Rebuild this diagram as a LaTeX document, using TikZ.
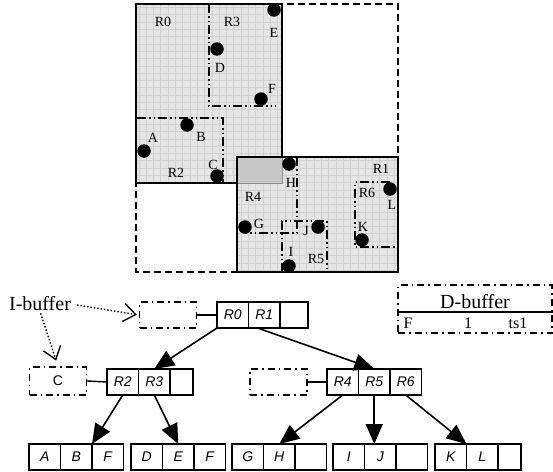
\documentclass[tikz,border=0pt]{standalone}
\usepackage{fontspec}
\setmainfont{Liberation Serif}
\newfontfamily\arialfont{Liberation Sans}
\usetikzlibrary{positioning,arrows.meta,calc}

\begin{document}
\begin{tikzpicture}[
        x=1pt, y=-1pt,
        region/.style = {fill=black!10},
        gridline/.style = {draw=black!18, line width=0.4pt},
        border/.style = {line width=1.8pt},
        sub/.style = {line width=1.5pt,
                      dash pattern=on 9pt off 3pt on 1.5pt off 3pt on 1.5pt off 3pt},
        pt/.style = {circle, fill=black, minimum size=13.5pt, inner sep=0pt},
        lbl/.style = {inner sep=0pt, font=\fontsize{14}{16}\selectfont},
        cell/.style = {draw, line width=1.5pt, minimum width=31.5pt,
                       minimum height=26pt, inner sep=0pt, outer sep=0pt,
                       font=\arialfont\itshape\fontsize{14}{16}\selectfont},
        bufbox/.style = {draw, line width=1.4pt, minimum width=57pt,
                         minimum height=26pt, inner sep=0pt,
                         dash pattern=on 7pt off 4pt on 1.5pt off 4pt},
        tarr/.style = {-{Triangle[length=20pt,width=17pt]}, line width=1.6pt},
        darr/.style = {-{Straight Barb[length=12pt,width=18pt]}, dotted, line width=1.4pt},
        big/.style = {inner sep=0pt, font=\fontsize{20}{22}\selectfont}
    ]
    \useasboundingbox (0,0) rectangle (553,471);

    % space with the two top regions
    \draw[line width=1.6pt, dash pattern=on 7pt off 4pt] (136,4) rectangle (398,272);
    \fill[region] (136,4) rectangle (282,183);
    \draw[gridline, step=7.3pt] (136,4) grid (282,183);
    \fill[region] (237,157) rectangle (398,272);
    \draw[gridline, step=7.3pt] (237,157) grid (398,272);
    \fill[black!22] (237,157) rectangle (282,183);
    \draw[border] (237,183) -- (136,183) -- (136,4) -- (282,4) -- (282,157);
    \draw[black!45, line width=1pt] (282,157) -- (282,183) -- (237,183);
    \draw[border] (237,157) rectangle (398,272);

    % lower regions
    \draw[sub] (209,4) -- (209,106) -- (276,106);
    \draw[sub] (137,118) -- (223,118) -- (223,183);
    \draw[sub] (297,157) -- (297,233) -- (245,233);
    \draw[sub] (282,272) -- (282,221) -- (327,221) -- (327,272);
    \draw[sub] (390,182) -- (355,182) -- (355,247) -- (398,247);

    \node[lbl] (tR0) at (163,22) {R0};
    \node[lbl] (tR3) at (232,22) {R3};
    \node[lbl] (tR2) at (176,173) {R2};
    \node[lbl] (tR1) at (381,169) {R1};
    \node[lbl] (tR4) at (253,197) {R4};
    \node[lbl] (tR6) at (367,193) {R6};
    \node[lbl] (tR5) at (316,259) {R5};

    % data points
    \node[pt] (E) at (274,10) {};  \node[lbl] (tE) at (274,33) {E};
    \node[pt] (D) at (217,49) {};  \node[lbl] (tD) at (220,68) {D};
    \node[pt] (F) at (261,99) {};  \node[lbl] (tF) at (272,89) {F};
    \node[pt] (B) at (187,125) {}; \node[lbl] (tB) at (201,137) {B};
    \node[pt] (A) at (144,151) {}; \node[lbl] (tA) at (153,138) {A};
    \node[pt] (C) at (217,176) {}; \node[lbl] (tC) at (213,165) {C};
    \node[pt] (H) at (289,164) {}; \node[lbl] (tH) at (291,183) {H};
    \node[pt] (L) at (390,189) {}; \node[lbl] (tL) at (392,205) {L};
    \node[pt] (G) at (245,227) {}; \node[lbl] (tG) at (259,224) {G};
    \node[pt] (J) at (318,227) {}; \node[lbl] (tJ) at (306,231) {J};
    \node[pt] (K) at (362,240) {}; \node[lbl] (tK) at (363,227) {K};
    \node[pt] (I) at (289,266) {}; \node[lbl] (tI) at (291,252) {I};

    % tree
    \node[cell, anchor=west] (root1) at (217,315) {R0};
    \node[cell, right=0pt of root1] (root2) {R1};
    \node[cell, right=0pt of root2, minimum width=28pt] (root3) {};

    \node[cell, anchor=west] (na1) at (107,382) {R2};
    \node[cell, right=0pt of na1] (na2) {R3};
    \node[cell, right=0pt of na2, minimum width=23pt] (na3) {};

    \node[cell, anchor=west] (nb1) at (327,382) {R4};
    \node[cell, right=0pt of nb1] (nb2) {R5};
    \node[cell, right=0pt of nb2] (nb3) {R6};

    \node[cell, anchor=west] (la1) at (29,457) {A};
    \node[cell, right=0pt of la1] (la2) {B};
    \node[cell, right=0pt of la2] (la3) {F};
    \node[cell, anchor=west] (lb1) at (131,457) {D};
    \node[cell, right=0pt of lb1] (lb2) {E};
    \node[cell, right=0pt of lb2] (lb3) {F};
    \node[cell, anchor=west] (lc1) at (232,457) {G};
    \node[cell, right=0pt of lc1] (lc2) {H};
    \node[cell, right=0pt of lc2] (lc3) {};
    \node[cell, anchor=west] (ld1) at (333,457) {I};
    \node[cell, right=0pt of ld1] (ld2) {J};
    \node[cell, right=0pt of ld2] (ld3) {};
    \node[cell, anchor=west] (le1) at (435,457) {K};
    \node[cell, right=0pt of le1] (le2) {L};
    \node[cell, right=0pt of le2, minimum width=23pt] (le3) {};

    % buffers
    \node[bufbox] (rootbuf) at (168,315) {};
    \node[bufbox, minimum height=28pt, font=\arialfont\fontsize{14}{16}\selectfont] (bufa) at (58,381) {C};
    \node[bufbox] (bufb) at (278.5,382) {};
    \draw[line width=1.4pt] (rootbuf.east) -- (root1.west);
    \draw[line width=1.4pt] (bufa.east) -- (na1.west);
    \draw[line width=1.4pt] (bufb.east) -- (nb1.west);

    \node[big] (ibuf) at (40,304) {I-buffer};
    \draw[darr, shorten <=6pt, shorten >=2pt] (ibuf.east) -- (rootbuf.west);
    \draw[darr, shorten <=2pt, shorten >=6pt] (ibuf.south) -- (bufa.north);

    \draw[tarr] (root1.south west) -- (na2.north);
    \draw[tarr] ([xshift=9pt]root2.south west) -- (nb2.north);
    \draw[tarr] (na1.south) -- (la2.north east);
    \draw[tarr] (na2.south) -- (lb2.north);
    \draw[tarr] (nb1.south) -- (lc2.north);
    \draw[tarr] (nb2.south) -- (nb2.south |- ld2.north);
    \draw[tarr] (nb3.south) -- (le2.north west);

    % deletion buffer
    \node[bufbox, minimum width=154pt, minimum height=48pt] (dbuf) at (475,309) {};
    \node[big] (dtitle) at (475,302) {D-buffer};
    \draw[line width=1.4pt] (dbuf.west |- 0,312) -- (dbuf.east |- 0,312);
    \node[big, font=\fontsize{16}{18}\selectfont] (dF) at (408,323) {F};
    \node[big, font=\fontsize{16}{18}\selectfont] (d1) at (468,323) {1};
    \node[big, font=\fontsize{16}{18}\selectfont] (dts) at (518,323) {ts1};
\end{tikzpicture}
\end{document}
